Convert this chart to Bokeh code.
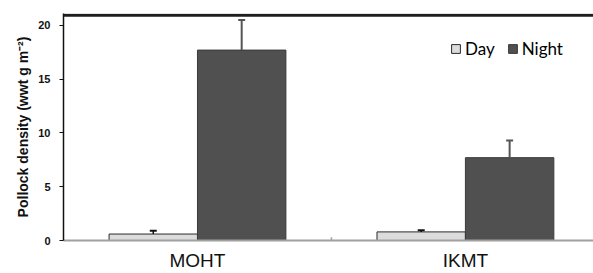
from bokeh.plotting import figure
from bokeh.models import Range1d, FixedTicker, Span, Legend, LegendItem, ColumnDataSource
from bokeh.embed import file_html
from bokeh.resources import INLINE

# ---- data ----
categories = ["MOHT", "IKMT"]
day_values = [0.6, 0.8]
day_errors = [0.3, 0.15]
night_values = [17.7, 7.7]
night_errors = [2.8, 1.6]
y_ticks = [0, 5, 10, 15, 20]

bar_w = 0.33
cap_half = 0.013
centers = [i + 0.5 for i in range(len(categories))]
day_x = [c - bar_w / 2 for c in centers]
night_x = [c + bar_w / 2 for c in centers]

p = figure(width=593, height=273, output_backend="svg", toolbar_location=None,
           x_range=Range1d(0, 1.978), y_range=Range1d(0, 21.1),
           min_border_left=63, min_border_right=0, min_border_top=13, min_border_bottom=33)
p.outline_line_color = None
p.grid.grid_line_color = None
p.background_fill_color = "white"
p.border_fill_color = "white"

day_src = ColumnDataSource(dict(x=day_x, top=day_values,
                                etop=[v + e for v, e in zip(day_values, day_errors)]))
night_src = ColumnDataSource(dict(x=night_x, top=night_values,
                                  etop=[v + e for v, e in zip(night_values, night_errors)]))

rd = p.vbar(x="x", top="top", bottom=0, width=bar_w, source=day_src,
            fill_color="#dcdcdc", line_color="#2a2a2a", line_width=1)
rn = p.vbar(x="x", top="top", bottom=0, width=bar_w, source=night_src,
            fill_color="#505050", line_color="#3a3a3a", line_width=1)

# error bars (upper only)
p.segment(x0="x", y0="top", x1="x", y1="etop", source=day_src, line_color="#111111", line_width=1.5)
p.segment(x0="x", y0="top", x1="x", y1="etop", source=night_src, line_color="#555555", line_width=2)
for src, col in ((day_src, "#111111"), (night_src, "#555555")):
    d = src.data
    p.segment(x0=[x - cap_half for x in d["x"]], y0=d["etop"],
              x1=[x + cap_half for x in d["x"]], y1=d["etop"], line_color=col, line_width=2)

# category boundary tick
bounds = [1]
p.segment(x0=bounds, y0=[0] * len(bounds), x1=bounds, y1=[0.3] * len(bounds),
          line_color="#a0a0a0", line_width=1.5)

# top heavy border
p.add_layout(Span(location=20.93, dimension="width", line_color="#1e1e1e", line_width=3))

# x axis
p.xaxis.ticker = FixedTicker(ticks=centers)
p.xaxis.major_label_overrides = {c: n for c, n in zip(centers, categories)}
p.xaxis.major_tick_out = 0
p.xaxis.major_tick_in = 0
p.xaxis.minor_tick_line_color = None
p.xaxis.axis_line_color = "#a0a0a0"
p.xaxis.axis_line_width = 2
p.xaxis.major_label_text_font = "Liberation Sans"
p.xaxis.major_label_text_font_size = "19px"
p.xaxis.major_label_text_color = "#111111"
p.xaxis.major_label_standoff = 9

# y axis
p.yaxis.ticker = FixedTicker(ticks=y_ticks)
p.yaxis.major_tick_out = 4
p.yaxis.major_tick_in = 0
p.yaxis.minor_tick_line_color = None
p.yaxis.axis_line_color = "#111111"
p.yaxis.axis_line_width = 1.5
p.yaxis.major_tick_line_color = "#111111"
p.yaxis.major_label_text_font = "Liberation Sans"
p.yaxis.major_label_text_font_style = "bold"
p.yaxis.major_label_text_font_size = "11px"
p.yaxis.major_label_text_color = "#111111"
p.yaxis.major_label_standoff = 9
p.yaxis.axis_label = "Pollock density (wwt g m\u207b\u00b2)"
p.yaxis.axis_label_text_font = "Liberation Sans"
p.yaxis.axis_label_text_font_style = "bold"
p.yaxis.axis_label_text_font_size = "14px"
p.yaxis.axis_label_text_color = "#111111"
p.yaxis.axis_label_standoff = 4

legend = Legend(items=[LegendItem(label="Day", renderers=[rd]),
                       LegendItem(label="Night", renderers=[rn])],
                orientation="horizontal", location=(387, 181),
                glyph_width=11, glyph_height=11, label_standoff=4, spacing=12,
                padding=0, margin=0, border_line_color=None, background_fill_alpha=0,
                label_text_font="Lato", label_text_font_size="17px", label_text_color="#000000")
p.add_layout(legend, "center")

open("out.html", "w").write(file_html(p, INLINE))
